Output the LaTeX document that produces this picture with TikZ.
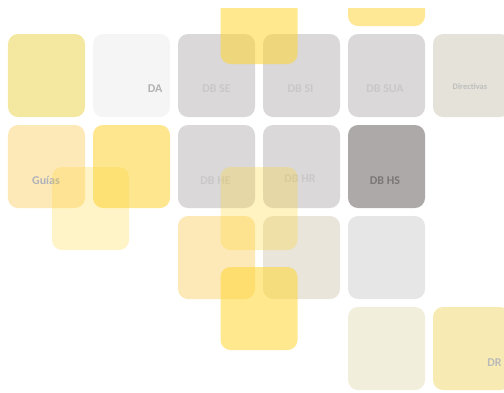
\documentclass[tikz,border=0pt]{standalone}
\usepackage{fontspec}
\setmainfont{Carlito}
\usepackage{tikz}
\usetikzlibrary{calc}
\usepackage{xcolor}

\definecolor{straw}{RGB}{244,232,160}
\definecolor{paper}{RGB}{245,245,245}
\definecolor{dbgray}{RGB}{218,216,217}
\definecolor{dbdark}{RGB}{173,169,168}
\definecolor{stone}{RGB}{229,227,217}
\definecolor{cream}{RGB}{253,233,184}
\definecolor{honey}{RGB}{254,230,143}
\definecolor{sand}{RGB}{233,229,218}
\definecolor{mist}{RGB}{230,230,230}
\definecolor{linen}{RGB}{242,238,220}
\definecolor{butter}{RGB}{247,235,179}
\definecolor{amber}{RGB}{255,214,50}
\definecolor{dbtext}{RGB}{201,199,200}

\begin{document}
\begin{tikzpicture}[x=1bp, y=-1bp,
  tile/.style={rectangle, rounded corners=10bp, minimum width=77bp,
               minimum height=83bp, inner sep=0pt},
  glass/.style={tile, fill=amber, fill opacity=#1},
  glass/.default=0.55,
  lbl/.style={font=\bfseries\fontsize{12}{14}\selectfont, text=dbtext,
              text height=8bp, text depth=0pt, inner sep=0pt}
]
  \useasboundingbox (0,0) rectangle (504,392);
  \clip (0,8) rectangle (504,392);

  % row 0 (cut at the top)
  \node[tile, fill=honey!95!white] (top5) at (386.5,-15.5) {};

  % row 1
  \node[tile, fill=straw]  (y11) at (46.5,75.5)  {};
  \node[tile, fill=paper]  (da)  at (131.5,75.5) {};
  \node[tile, fill=dbgray] (se)  at (216.5,75.5) {};
  \node[tile, fill=dbgray] (si)  at (301.5,75.5) {};
  \node[tile, fill=dbgray] (sua) at (386.5,75.5) {};
  \node[tile, fill=stone]  (dir) at (471.5,75.5) {};

  % row 2
  \node[tile, fill=cream]  (gui) at (46.5,166.5)  {};
  \node[tile, fill=honey]  (y22) at (131.5,166.5) {};
  \node[tile, fill=dbgray] (he)  at (216.5,166.5) {};
  \node[tile, fill=dbgray] (hr)  at (301.5,166.5) {};
  \node[tile, fill=dbdark] (hs)  at (386.5,166.5) {};

  % row 3
  \node[tile, fill=cream] (y33) at (216.5,257.5) {};
  \node[tile, fill=sand]  (s34) at (301.5,257.5) {};
  \node[tile, fill=mist]  (m35) at (386.5,257.5) {};

  % row 4
  \node[tile, fill=linen]  (l45) at (386.5,348.5) {};
  \node[tile, fill=butter] (dr)  at (471.5,348.5) {};

  % labels
  \node[lbl, text=black!30] (da-t) at ($(da)+(23.5,12.5)$) {DA};
  \node[lbl] (se-t)  at ($(se)+(0,12.5)$)   {DB SE};
  \node[lbl] (si-t)  at ($(si)+(-1,12.5)$)  {DB SI};
  \node[lbl] (sua-t) at ($(sua)+(-1.5,12.5)$) {DB SUA};
  \node[lbl, text=black!26, font=\bfseries\fontsize{8.5}{10}\selectfont]
    (dir-t) at ($(dir)+(-1.5,9.5)$) {Directivas};
  \node[lbl, text={rgb,255:red,174;green,178;blue,186}]
    (gui-t) at ($(gui)+(-0.5,13.5)$) {Guías};
  \node[lbl] (he-t)  at ($(he)+(-1,13.5)$)  {DB HE};
  \node[lbl] (hr-t)  at ($(hr)+(-1.5,11.5)$) {DB HR};
  \node[lbl, text={rgb,255:red,123;green,118;blue,119}]
    (hs-t) at ($(hs)+(-1.5,13.5)$) {DB HS};
  \node[lbl, text=black!27] (dr-t) at ($(dr)+(23,13.5)$) {DR};

  % see-through tiles on top
  \node[glass]      (g1) at (259,22.5)   {};
  \node[glass=0.27] (g2) at (90.5,208.5) {};
  \node[glass=0.3]  (g3) at (259,208.5)  {};
  \node[glass]      (g4) at (259,308.5)  {};
\end{tikzpicture}
\end{document}
